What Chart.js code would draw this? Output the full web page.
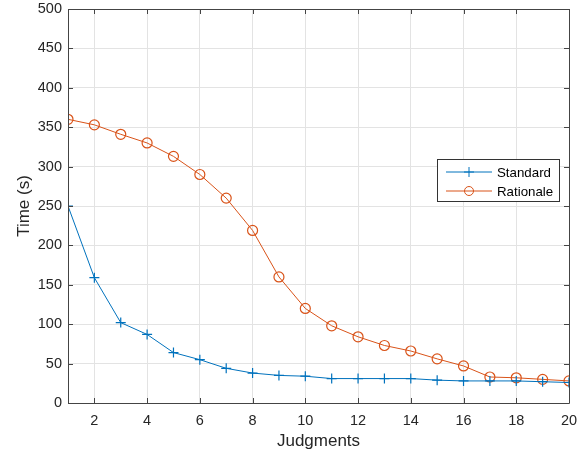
<!DOCTYPE html>
<html><head><meta charset="utf-8">
<script src="https://cdn.jsdelivr.net/npm/chart.js@4"></script>
<style>html,body{margin:0;padding:0;background:#fff}#wrap{width:586px;height:455px}</style>
</head><body><div id="wrap"><canvas id="c"></canvas></div>
<script>
const judgments = [1,2,3,4,5,6,7,8,9,10,11,12,13,14,15,16,17,18,19,20];
const standard = [250,159,102,87,64,55,44,38,35,34,31,31,31,31,29,28,28,28,27,26];
const rationale = [360,353,341,330,313,290,260,219,160,120,98,84,73,66,56,47,33,32,30,28];
const xTicks = [2,4,6,8,10,12,14,16,18,20];
const yTicks = [0,50,100,150,200,250,300,350,400,450,500];
const seriesNames = ['Standard','Rationale'];
const colors = ['#0072BD','#D95319'];
const FONT = 'Liberation Sans, Arial, Helvetica, sans-serif';

const boxPlugin = {
  id:'box',
  afterDatasetsDraw(chart){
    const {ctx, chartArea:a, scales} = chart;
    ctx.save();
    ctx.strokeStyle = '#444';
    ctx.lineWidth = 1;
    ctx.beginPath();
    ctx.rect(Math.round(a.left)+0.5, Math.round(a.top)+0.5, Math.round(a.right-a.left), Math.round(a.bottom-a.top));
    ctx.stroke();
    const tl = 5;
    ctx.beginPath();
    scales.x.ticks.forEach(t=>{
      const px = Math.round(scales.x.getPixelForValue(t.value))+0.5;
      ctx.moveTo(px,a.bottom); ctx.lineTo(px,a.bottom-tl);
      ctx.moveTo(px,a.top); ctx.lineTo(px,a.top+tl);
    });
    scales.y.ticks.forEach(t=>{
      const py = Math.round(scales.y.getPixelForValue(t.value))+0.5;
      ctx.moveTo(a.left,py); ctx.lineTo(a.left+tl,py);
      ctx.moveTo(a.right,py); ctx.lineTo(a.right-tl,py);
    });
    ctx.stroke();
    // legend
    const lx=437, ly=159, lw=122, lh=42;
    ctx.fillStyle='#fff';
    ctx.fillRect(lx,ly,lw,lh);
    ctx.strokeStyle='#333';
    ctx.strokeRect(lx+0.5,ly+0.5,lw,lh);
    const rows=[172,191];
    seriesNames.forEach((n,i)=>{
      const y=rows[i];
      ctx.strokeStyle=colors[i]; ctx.lineWidth=1;
      ctx.beginPath(); ctx.moveTo(446,y); ctx.lineTo(492,y); ctx.stroke();
      ctx.beginPath();
      if(i===0){ ctx.moveTo(469,y-5); ctx.lineTo(469,y+5); ctx.moveTo(464,y); ctx.lineTo(474,y); }
      else { ctx.arc(469,y,4.5,0,Math.PI*2); }
      ctx.stroke();
      ctx.fillStyle='#000';
      ctx.font='13.3px '+FONT;
      ctx.textBaseline='middle'; ctx.textAlign='left';
      ctx.fillText(n,497,y+1);
    });
    ctx.restore();
  }
};

new Chart(document.getElementById('c'),{
  type:'line',
  data:{datasets:[
    {label:seriesNames[0], data:judgments.map((x,i)=>({x,y:standard[i]})), borderColor:colors[0], backgroundColor:'transparent', borderWidth:1, pointStyle:'cross', pointRadius:5, pointBorderWidth:1.2, pointBorderColor:colors[0], tension:0},
    {label:seriesNames[1], data:judgments.map((x,i)=>({x,y:rationale[i]})), borderColor:colors[1], backgroundColor:'transparent', borderWidth:1, pointStyle:'circle', pointRadius:5, pointBorderWidth:1.2, pointBorderColor:colors[1], pointBackgroundColor:'rgba(0,0,0,0)', tension:0}
  ]},
  options:{
    responsive:true, maintainAspectRatio:false, animation:false,
    layout:{padding:{left:0,right:17,top:9,bottom:0}},
    plugins:{legend:{display:false},tooltip:{enabled:false}},
    scales:{
      x:{type:'linear',min:1,max:20,
        afterBuildTicks(s){ s.ticks = xTicks.map(v=>({value:v})); },
        afterFit(s){ s.height=52; s.paddingLeft=0; s.paddingRight=0; },
        grid:{color:'#e3e3e3',tickLength:0,drawTicks:false},
        border:{display:false},
        ticks:{color:'#262626',font:{family:FONT,size:14.5},padding:9,maxRotation:0,autoSkip:false},
        title:{display:true,text:'Judgments',color:'#262626',font:{family:FONT,size:17},padding:{top:2,bottom:3}}
      },
      y:{type:'linear',min:0,max:500,
        afterBuildTicks(s){ s.ticks = yTicks.map(v=>({value:v})); },
        afterFit(s){ s.width=68; s.paddingTop=0; s.paddingBottom=0; },
        grid:{color:'#e3e3e3',tickLength:0,drawTicks:false},
        border:{display:false},
        ticks:{color:'#262626',font:{family:FONT,size:14.5},padding:6,autoSkip:false},
        title:{display:true,text:'Time (s)',color:'#262626',font:{family:FONT,size:17},padding:{top:14,bottom:0}}
      }
    }
  },
  plugins:[boxPlugin]
});
</script></body></html>
